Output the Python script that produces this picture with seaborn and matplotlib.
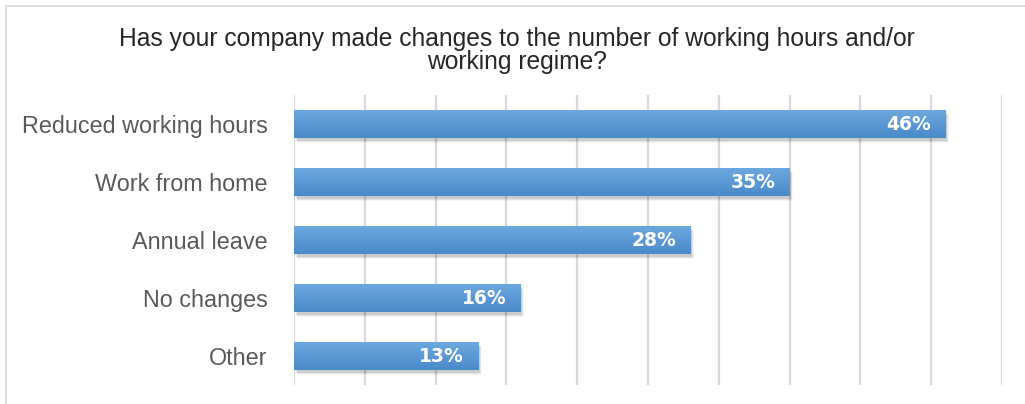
import numpy as np
import pandas as pd
import matplotlib
matplotlib.use("Agg")
import matplotlib.pyplot as plt
from matplotlib.patches import Rectangle
from matplotlib.colors import LinearSegmentedColormap
import seaborn as sns

categories = ["Reduced working hours", "Work from home", "Annual leave", "No changes", "Other"]
shares = [46, 35, 28, 16, 13]
title_text = "Has your company made changes to the number of working hours and/or\nworking regime?"

df = pd.DataFrame({"category": categories, "share": shares})

sns.set_theme(style="white")
plt.rcParams["font.family"] = ["Liberation Sans", "DejaVu Sans"]

fig = plt.figure(figsize=(10.25, 4.04), dpi=100)
ax = fig.add_axes([294 / 1025, 1 - 385 / 404, (1002 - 294) / 1025, (385 - 95) / 404])

bar_h = 0.49
sns.barplot(data=df, x="share", y="category", orient="h", color="#5b9bd5",
            width=bar_h, ax=ax, zorder=3, edgecolor="none", saturation=1)

ax.set_xlim(0, 50)
ax.set_ylim(len(categories) - 0.5, -0.5)
ax.set_xticks(np.arange(0, 51, 5))
ax.xaxis.grid(True, color="#d9d9d9", linewidth=1.6, zorder=0)
ax.yaxis.grid(False)
for s in ax.spines.values():
    s.set_visible(False)
ax.set_xticklabels([])
ax.tick_params(axis="x", length=0)
ax.tick_params(axis="y", length=0, pad=19, labelsize=16.8, labelcolor="#595959")
ax.set_xlabel("")
ax.set_ylabel("")

# gradient fill and soft drop shadow on each bar
grad = LinearSegmentedColormap.from_list("barfill", ["#6ea8df", "#4a8acb"])
gimg = np.linspace(0, 1, 64).reshape(-1, 1)
for patch in list(ax.patches):
    x0, y0 = patch.get_x(), patch.get_y()
    w, h = patch.get_width(), patch.get_height()
    for k, a in enumerate([0.10, 0.07, 0.04]):
        sh = Rectangle((x0 + 0.12 + 0.06 * k, y0 + 0.05 + 0.02 * k), w, h,
                       facecolor="#000000", alpha=a, edgecolor="none", zorder=2)
        ax.add_patch(sh)
    im = ax.imshow(gimg, cmap=grad, aspect="auto", extent=(x0, x0 + w, y0 + h, y0),
                   zorder=3.5, interpolation="bicubic")
    im.set_clip_path(patch)

ax.set_xlim(0, 50)
ax.set_ylim(len(categories) - 0.5, -0.5)

for i, v in enumerate(shares):
    ax.text(v - 1.0, i, f"{v}%", ha="right", va="center", color="white",
            fontsize=13.5, fontweight="bold", family=["DejaVu Sans"], zorder=5)

fig.text(517 / 1025, 1 - 50.5 / 404, title_text, ha="center", va="center",
         fontsize=17.7, color="#262626", linespacing=0.98)

# chart area frame
frame = Rectangle((5.5 / 1025, -0.1), 1.2, 1 - 5.5 / 404 + 0.1, transform=fig.transFigure,
                  fill=False, edgecolor="#d9d9d9", linewidth=1.2)
fig.add_artist(frame)

fig.savefig("out.png", dpi=100)
